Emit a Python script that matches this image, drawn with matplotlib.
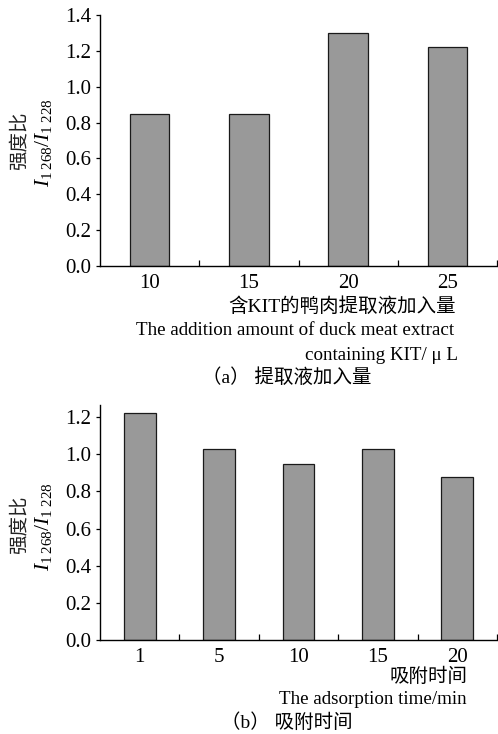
import matplotlib
matplotlib.use("Agg")
import matplotlib.pyplot as plt
from matplotlib.ticker import FixedLocator

plt.rcParams["font.family"] = ["Liberation Serif", "Noto Sans CJK SC"]
plt.rcParams["mathtext.fontset"] = "custom"
plt.rcParams["mathtext.rm"] = "Liberation Serif"
plt.rcParams["mathtext.it"] = "Liberation Serif:italic"

# (a) amount of extract added
amount_labels = ["10", "15", "20", "25"]
amount_ratio = [0.85, 0.85, 1.30, 1.22]

# (b) adsorption time
time_labels = ["1", "5", "10", "15", "20"]
time_ratio = [1.22, 1.03, 0.95, 1.03, 0.88]

W, H = 498, 734
BAR_COLOR = "#999999"
EDGE_COLOR = "#1a1a1a"
FONT = ["Liberation Serif", "Noto Sans CJK SC"]


def fx(px):
    return px / W


def fy(py):
    return 1 - py / H


def draw_panel(ax, labels, values, ymax, yticks):
    n = len(values)
    x = list(range(n))
    ax.bar(x, values, width=0.4, color=BAR_COLOR, edgecolor=EDGE_COLOR, linewidth=0.9, zorder=2)
    ax.set_xlim(-0.5, n - 0.5)
    ax.set_ylim(0, ymax)
    ax.set_yticks(yticks)
    ax.set_yticklabels([f"{t:.1f}" for t in yticks])
    ax.set_xticks(x)
    ax.set_xticklabels(labels)
    ax.xaxis.set_minor_locator(FixedLocator([i + 0.5 for i in range(n)]))
    ax.tick_params(axis="x", which="major", length=0, pad=6, labelsize=15)
    ax.tick_params(axis="x", which="minor", direction="in", length=4, width=0.9)
    ax.tick_params(axis="y", direction="out", length=3, width=0.9, pad=3, labelsize=15)
    for side in ("top", "right"):
        ax.spines[side].set_visible(False)
    for side in ("left", "bottom"):
        ax.spines[side].set_linewidth(1.0)


def y_label(center_py):
    fig.text(fx(20), fy(center_py), "强度比", rotation=90, ha="center", va="center",
             fontsize=14, family=FONT, color="#222222")
    fig.text(fx(44), fy(center_py + 2), r"$I_{1\;268}/I_{1\;228}$", rotation=90,
             ha="center", va="center", fontsize=15.5)


fig = plt.figure(figsize=(W / 100, H / 100), dpi=100)
fig.patch.set_facecolor("white")

ax1 = fig.add_axes([fx(100), fy(266), fx(397), 251 / H])
draw_panel(ax1, amount_labels, amount_ratio, 1.4, [0.0, 0.2, 0.4, 0.6, 0.8, 1.0, 1.2, 1.4])
y_label(141)
fig.text(fx(456), fy(307), "含KIT的鸭肉提取液加入量", ha="right", va="center", fontsize=14, family=FONT)
fig.text(fx(454), fy(331), "The addition amount of duck meat extract", ha="right", va="center",
         fontsize=13.7, family=FONT)
fig.text(fx(458), fy(355), "containing KIT/ μ L", ha="right", va="center", fontsize=13.7, family=FONT)
fig.text(fx(287), fy(378), "（a） 提取液加入量", ha="center", va="center", fontsize=14, family=FONT)

ax2 = fig.add_axes([fx(100), fy(640), fx(397), 235 / H])
draw_panel(ax2, time_labels, time_ratio, 1.265, [0.0, 0.2, 0.4, 0.6, 0.8, 1.0, 1.2])
y_label(525)
fig.text(fx(467), fy(677), "吸附时间", ha="right", va="center", fontsize=14, family=FONT)
fig.text(fx(467), fy(700), "The adsorption time/min", ha="right", va="center", fontsize=13.7, family=FONT)
fig.text(fx(287), fy(723), "（b） 吸附时间", ha="center", va="center", fontsize=14, family=FONT)

fig.savefig("out.png", dpi=100, facecolor="white")
plt.close()
